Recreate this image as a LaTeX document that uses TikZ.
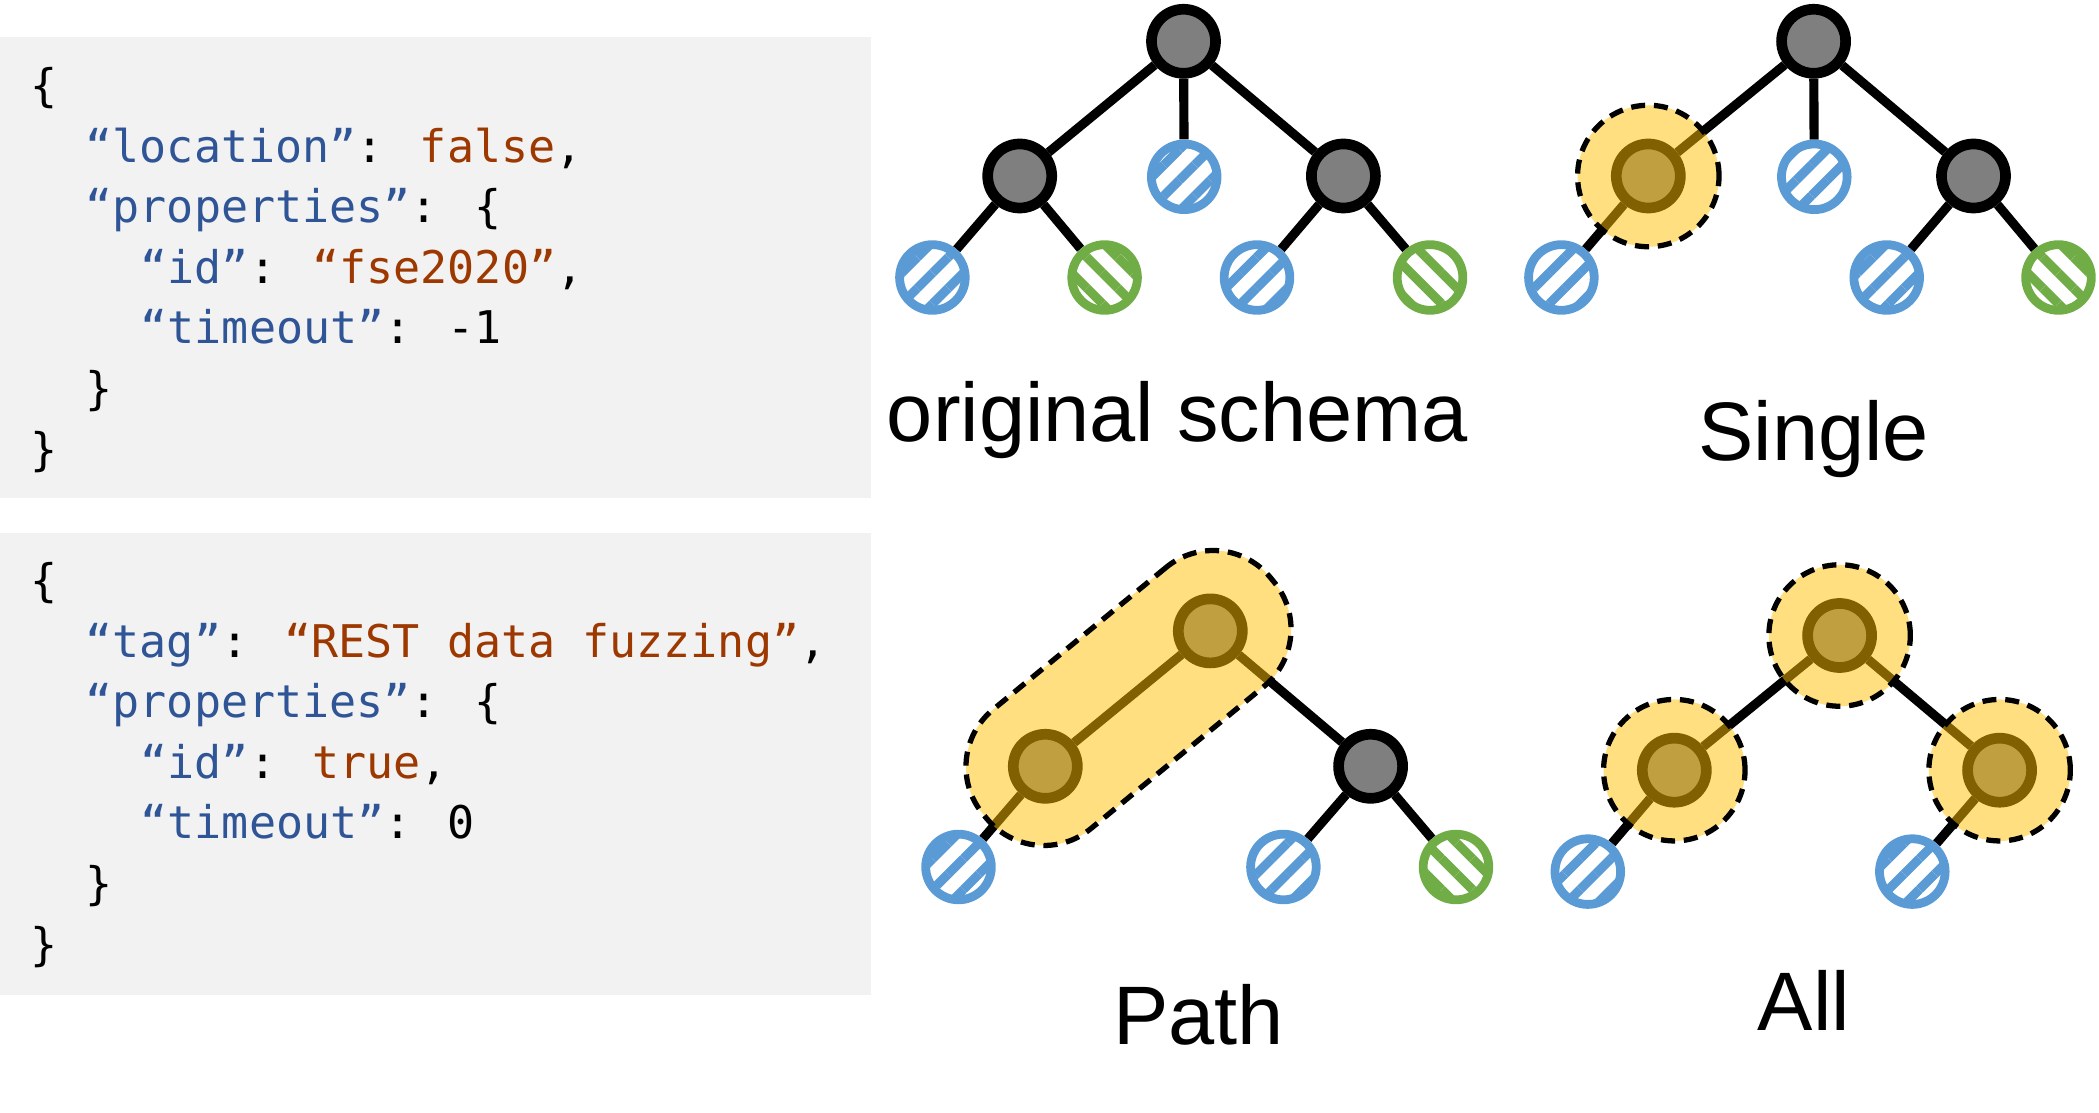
\documentclass[tikz,border=0pt]{standalone}
\usepackage{fontspec}
\newfontfamily\codefont{DejaVu Sans Mono}
\newfontfamily\capfont{Liberation Sans}
\usepackage{tikz}
\usetikzlibrary{backgrounds,patterns.meta}
\definecolor{codebg}{HTML}{F2F2F2}
\definecolor{keyblue}{HTML}{2F5597}
\definecolor{valred}{HTML}{9C3800}
\definecolor{nodegray}{HTML}{7F7F7F}
\definecolor{leafblue}{HTML}{5B9BD5}
\definecolor{leafgreen}{HTML}{70AD47}
\definecolor{haloyellow}{HTML}{FFC000}
\tikzset{
  midnode/.style={ draw, circle, fill=nodegray, line width=3.04pt, minimum size=0.64cm, inner sep=0pt }
}
\tikzset{
  leafB/.style={ draw=leafblue, circle, line width=2.5pt, minimum size=0.656cm, inner sep=0pt,
    pattern={Lines[angle=45, distance=6.2pt, line width=2.6pt]}, pattern color=leafblue }
}
\tikzset{
  leafG/.style={ draw=leafgreen, circle, line width=2.5pt, minimum size=0.656cm, inner sep=0pt,
    pattern={Lines[angle=-45, distance=6.2pt, line width=2.6pt]}, pattern color=leafgreen }
}
\tikzset{
  link/.style={ line width=2.6pt }
}
\tikzset{
  halo/.style={ draw, circle, fill=haloyellow, fill opacity=0.5, draw opacity=1,
    line width=1.5pt, dash pattern=on 4pt off 2.5pt, minimum size=1.414cm, inner sep=0pt }
}
\tikzset{
  code/.style={ anchor=base west, inner sep=0pt, font=\codefont\fontsize{12.8}{15.4}\selectfont }
}
\tikzset{
  caption/.style={ anchor=base, inner sep=0pt, font=\capfont\fontsize{23.6}{28}\selectfont }
}

\begin{document}
\begin{tikzpicture}[x=0.01cm, y=-0.01cm]
        \useasboundingbox (0,0) rectangle (2099,1113);
        % json boxes
        \fill[codebg] (0,36.8) rectangle (871,498);
        \fill[codebg] (0,533) rectangle (871,994.6);
        \node[code] (ta) at (30,101.5) {\{};
        \node[code] (tb) at (85,162.1) {\textcolor{keyblue}{“location”}: \textcolor{valred}{false},};
        \node[code] (tc) at (85,222.7) {\textcolor{keyblue}{“properties”}: \{};
        \node[code] (td) at (140,283.3) {\textcolor{keyblue}{“id”}: \textcolor{valred}{“fse2020”},};
        \node[code] (te) at (140,343.9) {\textcolor{keyblue}{“timeout”}: -1};
        \node[code] (tf) at (85,404.5) {\}};
        \node[code] (tg) at (30,465.1) {\}};
        \node[code] (ba) at (30,596.5) {\{};
        \node[code] (bb) at (85,657.1) {\textcolor{keyblue}{“tag”}: \textcolor{valred}{“REST data fuzzing”},};
        \node[code] (bc) at (85,717.7) {\textcolor{keyblue}{“properties”}: \{};
        \node[code] (bd) at (140,778.3) {\textcolor{keyblue}{“id”}: \textcolor{valred}{true},};
        \node[code] (be) at (140,838.9) {\textcolor{keyblue}{“timeout”}: 0};
        \node[code] (bf) at (85,899.5) {\}};
        \node[code] (bg) at (30,960.1) {\}};

        % original schema
        \node[midnode] (r1) at (1183.5,41.3) {};
        \node[midnode] (a1) at (1019.7,176) {};
        \node[leafB] (m1) at (1184.2,176.8) {};
        \node[midnode] (b1) at (1343.4,176) {};
        \node[leafB] (a1l) at (932.4,277.5) {};
        \node[leafG] (a1r) at (1104.6,277.5) {};
        \node[leafB] (b1l) at (1257,277.5) {};
        \node[leafG] (b1r) at (1430,277.5) {};
        \node[caption] (t1) at (1177.5,442) {original schema};

        % single
        \node[midnode] (r2) at (1813.6,41.3) {};
        \node[midnode] (a2) at (1648.3,176) {};
        \node[leafB] (m2) at (1814.3,176.8) {};
        \node[midnode] (b2) at (1973.5,176) {};
        \node[leafB] (a2l) at (1561.4,277.5) {};
        \node[leafB] (b2l) at (1886.7,277.5) {};
        \node[leafG] (b2r) at (2058.5,277.5) {};
        \node[caption] (t2) at (1813.8,461) {Single};

        % path
        \node[midnode] (r3) at (1210.3,630.9) {};
        \node[midnode] (a3) at (1045.3,766.3) {};
        \node[midnode] (b3) at (1370.6,766.3) {};
        \node[leafB] (a3l) at (958.5,867) {};
        \node[leafB] (b3l) at (1283.4,867) {};
        \node[leafG] (b3r) at (1456,867) {};
        \node[caption] (t3) at (1198.6,1045) {Path};

        % all
        \node[midnode] (r4) at (1839.6,635.5) {};
        \node[midnode] (a4) at (1674.3,770.2) {};
        \node[midnode] (b4) at (1999.6,770.2) {};
        \node[leafB] (a4l) at (1587.8,871.6) {};
        \node[leafB] (b4l) at (1912.3,871.6) {};
        \node[caption] (t4) at (1803.8,1030.4) {All};

        \begin{scope}[on background layer]
          \foreach \u/\v in {r1/a1, r1/m1, r1/b1, a1/a1l, a1/a1r, b1/b1l, b1/b1r,
                             r2/a2, r2/m2, r2/b2, a2/a2l, b2/b2l, b2/b2r,
                             r3/a3, r3/b3, a3/a3l, b3/b3l, b3/b3r,
                             r4/a4, r4/b4, a4/a4l, b4/b4l}
            \draw[link] (\u) -- (\v);
        \end{scope}

        % highlighted parts
        \node[halo] (h2) at (a2) {};
        \node[halo, rectangle, rounded corners=0.74cm, minimum width=3.72cm, minimum height=1.54cm, rotate=39.4] (h3) at (1128.5,698) {};
        \node[halo] (h4a) at (r4) {};
        \node[halo] (h4b) at (a4) {};
        \node[halo] (h4c) at (b4) {};
      \end{tikzpicture}
\end{document}
